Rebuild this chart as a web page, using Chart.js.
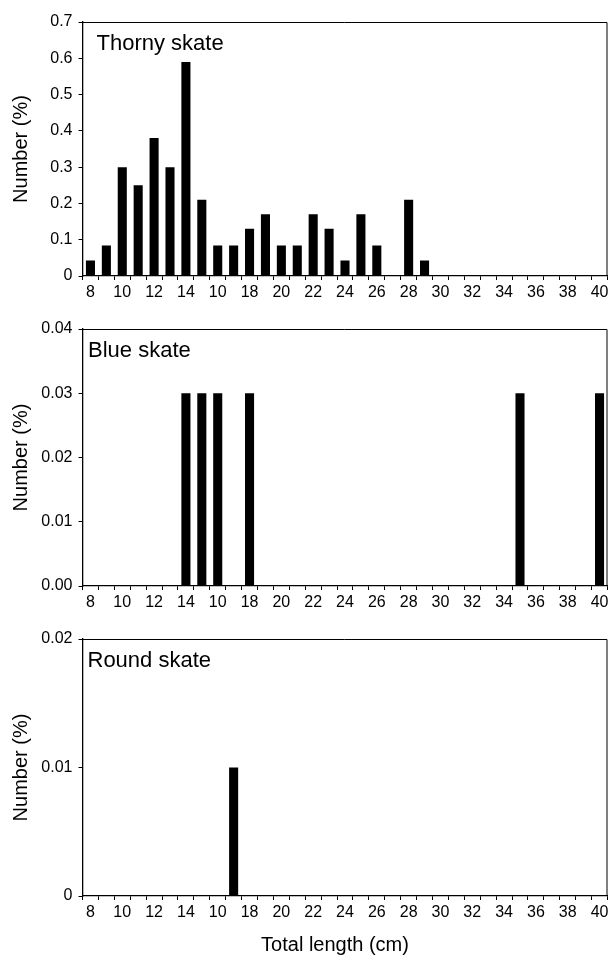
<!DOCTYPE html>
<html>
<head>
<meta charset="utf-8">
<script src="https://cdn.jsdelivr.net/npm/chart.js@4.4.1/dist/chart.umd.min.js"></script>
<style>
  body { margin: 0; background: #fff; }
  .panel { position: absolute; left: 0; }
</style>
</head>
<body>
<div class="panel" style="top:0"><canvas id="thorny" width="613" height="300"></canvas></div>
<div class="panel" style="top:300px"><canvas id="blue" width="613" height="310"></canvas></div>
<div class="panel" style="top:610px"><canvas id="round" width="613" height="348"></canvas></div>
<script>
// total length classes (cm), one bar slot each
const lengths = [8, 9, 10, 11, 12, 13, 14, 15, 16, 17, 18, 19, 20, 21, 22, 23, 24,
                 25, 26, 27, 28, 29, 30, 31, 32, 33, 34, 35, 36, 37, 38, 39, 40];
// labels as printed in the figure (16 is printed as "10")
const xTickLabels = ['8', '', '10', '', '12', '', '14', '', '10', '', '18', '', '20', '', '22', '', '24',
                     '', '26', '', '28', '', '30', '', '32', '', '34', '', '36', '', '38', '', '40'];

const thornyValues = [0.043, 0.084, 0.30, 0.25, 0.38, 0.30, 0.59, 0.21, 0.084, 0.084, 0.13, 0.17, 0.084,
                      0.084, 0.17, 0.13, 0.043, 0.17, 0.084, 0, 0.21, 0.043, 0, 0, 0, 0, 0, 0, 0, 0, 0, 0, 0];
const blueValues = [0, 0, 0, 0, 0, 0, 0.03, 0.03, 0.03, 0, 0.03, 0, 0, 0, 0, 0, 0,
                    0, 0, 0, 0, 0, 0, 0, 0, 0, 0, 0.03, 0, 0, 0, 0, 0.03];
const roundValues = [0, 0, 0, 0, 0, 0, 0, 0, 0, 0.01, 0, 0, 0, 0, 0, 0, 0,
                     0, 0, 0, 0, 0, 0, 0, 0, 0, 0, 0, 0, 0, 0, 0, 0];

const thornyYTicks = ['0', '0.1', '0.2', '0.3', '0.4', '0.5', '0.6', '0.7'];
const blueYTicks = ['0.00', '0.01', '0.02', '0.03', '0.04'];
const roundYTicks = ['0', '0.01', '0.02'];

const FONT = "'Liberation Sans', Arial, sans-serif";

// box round the plot, species name in the corner, x title under the last panel
const framePlugin = {
    id: 'frame',
    afterDraw(chart, args, opts) {
        const { ctx, chartArea: a } = chart;
        ctx.save();
        ctx.strokeStyle = '#000';
        ctx.lineWidth = 1;
        ctx.beginPath();
        ctx.moveTo(a.left, a.top + 0.5);
        ctx.lineTo(a.right - 0.5, a.top + 0.5);
        ctx.lineTo(a.right - 0.5, a.bottom);
        ctx.stroke();
        ctx.fillStyle = '#000';
        ctx.font = '22px ' + FONT;
        ctx.textBaseline = 'alphabetic';
        ctx.fillText(opts.text, a.left + opts.dx, a.top + opts.dy);
        if (opts.xTitle) {
            ctx.font = '20px ' + FONT;
            ctx.textAlign = 'center';
            ctx.fillText(opts.xTitle, (a.left + a.right) / 2 - 10, chart.height - 7);
        }
        ctx.restore();
    }
};

function pintarPanel(id, nombre, valores, yMax, yStep, yLabels, cfg) {
    const ctx = document.getElementById(id).getContext('2d');
    return new Chart(ctx, {
        type: 'bar',
        data: {
            labels: lengths,
            datasets: [{
                data: valores,
                backgroundColor: '#000',
                borderWidth: 0,
                barPercentage: 0.57,
                categoryPercentage: 1
            }]
        },
        options: {
            responsive: false,
            animation: false,
            layout: { padding: { top: cfg.top, right: 5.5, left: 0, bottom: 0 } },
            plugins: {
                legend: { display: false },
                tooltip: { enabled: false },
                frame: { text: nombre, dx: cfg.dx, dy: 28, xTitle: cfg.xTitle }
            },
            scales: {
                x: {
                    grid: { display: true, drawOnChartArea: false, drawTicks: true, tickLength: 4, color: '#000', lineWidth: 1 },
                    border: { display: true, color: '#000', width: 1.3 },
                    ticks: {
                        autoSkip: false, maxRotation: 0, minRotation: 0, padding: 3,
                        color: '#000', font: { family: FONT, size: 16 },
                        callback: (v, i) => xTickLabels[i]
                    },
                    afterFit: s => { s.height = cfg.xh; }
                },
                y: {
                    min: 0, max: yMax,
                    grid: { display: true, drawOnChartArea: false, drawTicks: true, tickLength: 4, color: '#000', lineWidth: 1 },
                    border: { display: true, color: '#000', width: 1.3 },
                    ticks: {
                        stepSize: yStep, padding: 6, color: '#000',
                        font: { family: FONT, size: 16 },
                        callback: (v, i) => yLabels[i]
                    },
                    title: {
                        display: true, text: 'Number (%)', color: '#000',
                        font: { family: FONT, size: 20 }, padding: { top: 9, bottom: 0 }
                    },
                    afterFit: s => { s.width = 82.5; }
                }
            }
        },
        plugins: [framePlugin]
    });
}

pintarPanel('thorny', 'Thorny skate', thornyValues, 0.7, 0.1, thornyYTicks, { top: 22, xh: 24, dx: 14, xTitle: null });
pintarPanel('blue', 'Blue skate', blueValues, 0.04, 0.01, blueYTicks, { top: 29, xh: 24, dx: 5.5, xTitle: null });
pintarPanel('round', 'Round skate', roundValues, 0.02, 0.01, roundYTicks, { top: 29, xh: 62, dx: 5, xTitle: 'Total length (cm)' });
</script>
</body>
</html>
